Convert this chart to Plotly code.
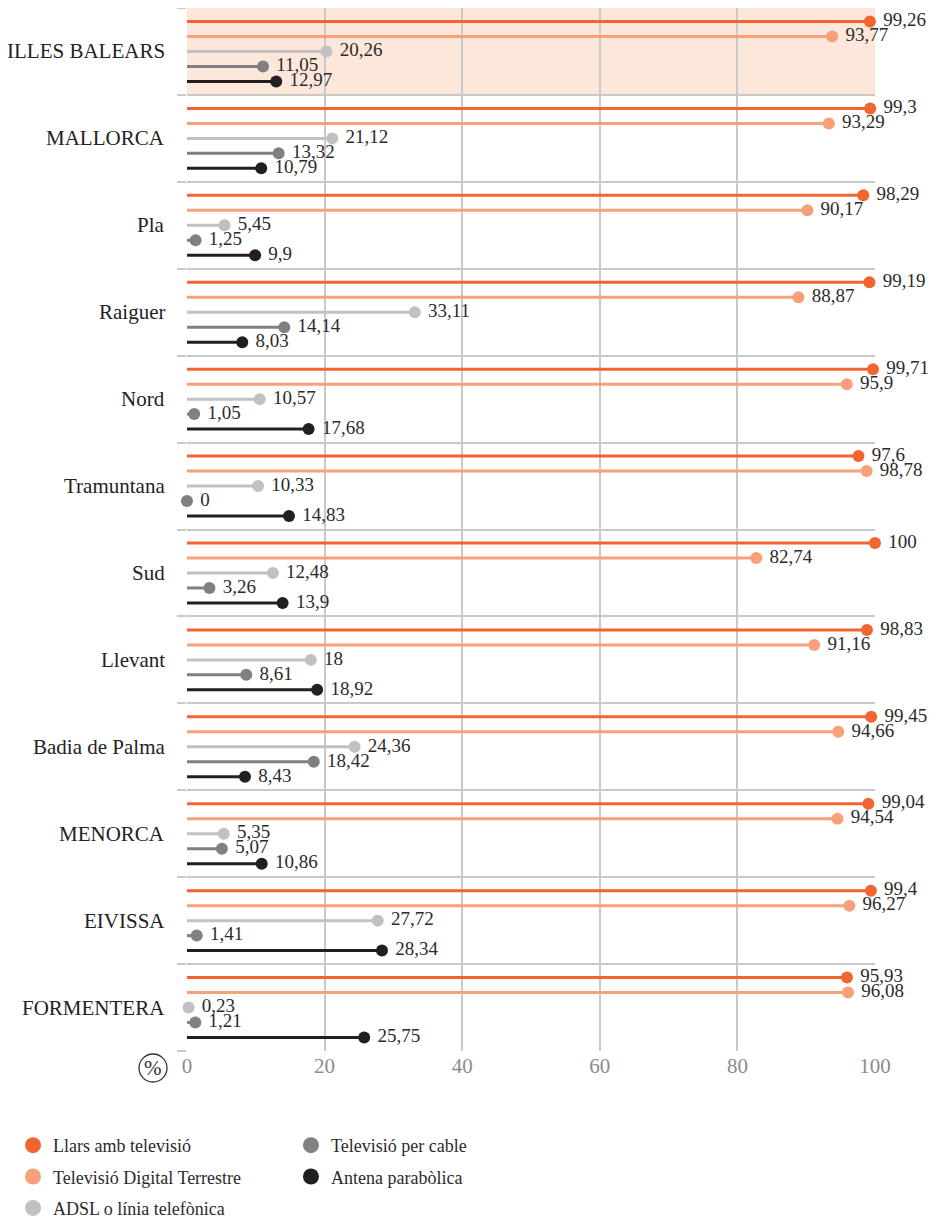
import plotly.graph_objects as go

categories = ["ILLES BALEARS", "MALLORCA", "Pla", "Raiguer", "Nord", "Tramuntana",
              "Sud", "Llevant", "Badia de Palma", "MENORCA", "EIVISSA", "FORMENTERA"]
series_names = ["Llars amb televisió", "Televisió Digital Terrestre", "ADSL o línia telefònica",
                "Televisió per cable", "Antena parabòlica"]
llars_tv = [99.26, 99.3, 98.29, 99.19, 99.71, 97.6, 100, 98.83, 99.45, 99.04, 99.4, 95.93]
tdt = [93.77, 93.29, 90.17, 88.87, 95.9, 98.78, 82.74, 91.16, 94.66, 94.54, 96.27, 96.08]
adsl = [20.26, 21.12, 5.45, 33.11, 10.57, 10.33, 12.48, 18, 24.36, 5.35, 27.72, 0.23]
cable = [11.05, 13.32, 1.25, 14.14, 1.05, 0, 3.26, 8.61, 18.42, 5.07, 1.41, 1.21]
antena = [12.97, 10.79, 9.9, 8.03, 17.68, 14.83, 13.9, 18.92, 8.43, 10.86, 28.34, 25.75]
x_ticks = [0, 20, 40, 60, 80, 100]

series_values = [llars_tv, tdt, adsl, cable, antena]
colors = ["#f26531", "#f7a079", "#c1c1c3", "#808084", "#231f20"]

SERIF = "Liberation Serif"
ROW_STEP = 0.1724

fig = go.Figure()

for j, (name, vals, col) in enumerate(zip(series_names, series_values, colors)):
    ys = [i + (j - 2) * ROW_STEP for i in range(len(categories))]
    lx, ly = [], []
    for v, y in zip(vals, ys):
        lx += [0, v, None]
        ly += [y, y, None]
    fig.add_trace(go.Scatter(x=lx, y=ly, mode="lines", line=dict(color=col, width=3),
                             showlegend=False, hoverinfo="skip", cliponaxis=False))
    fig.add_trace(go.Scatter(x=vals, y=ys, mode="markers+text",
                             marker=dict(color=col, size=12),
                             text=[" " + f"{v:g}".replace(".", ",") for v in vals],
                             textposition="middle right",
                             textfont=dict(family=SERIF, size=19, color="#2b2b2b"),
                             showlegend=False, cliponaxis=False, name=name))
    # legend entries
    fig.add_trace(go.Scatter(x=[None], y=[None], mode="markers",
                             marker=dict(color=col, size=20), name=name,
                             legend="legend" if j < 3 else "legend2",
                             legendgroup=name, showlegend=True))

PCT_X = -0.0494
PCT_Y = -0.0163

shapes = [dict(type="rect", xref="x", yref="y", x0=0, x1=100, y0=-0.5, y1=0.5,
               fillcolor="#fde7db", line=dict(width=0), layer="below"),
          dict(type="circle", xref="paper", yref="paper", xsizemode="pixel", ysizemode="pixel",
               xanchor=PCT_X, yanchor=PCT_Y, x0=-14, x1=14, y0=-14, y1=14,
               line=dict(color="#333333", width=1.3))]

annotations = [dict(x=0, xref="paper", y=i, yref="y", text=c, showarrow=False,
                    xanchor="right", xshift=-20,
                    font=dict(family=SERIF, size=21, color="#222222"))
               for i, c in enumerate(categories)]
annotations.append(dict(x=PCT_X, xref="paper", y=PCT_Y, yref="paper", text="%", showarrow=False,
                        xanchor="center", yanchor="middle",
                        font=dict(family=SERIF, size=21, color="#333333")))

legend_font = dict(family=SERIF, size=18, color="#2b2b2b")

fig.update_layout(
    width=928, height=1212,
    margin=dict(l=179, r=61, t=0, b=169, autoexpand=False),
    paper_bgcolor="white", plot_bgcolor="white",
    xaxis=dict(range=[0, 100], tickvals=x_ticks, showgrid=True, gridcolor="#c9c9c9",
               gridwidth=1.5, zeroline=False, showline=False, ticks="", automargin=False,
               tickfont=dict(family=SERIF, size=21, color="#8c8c8c")),
    yaxis=dict(range=[len(categories) - 0.5, -0.5],
               tickvals=[i - 0.5 for i in range(len(categories) + 1)],
               showticklabels=False, showgrid=True, gridcolor="#c9c9c9", gridwidth=1.5,
               ticks="outside", ticklen=9, tickcolor="#c9c9c9", tickwidth=1.5,
               zeroline=False, showline=False, automargin=False),
    shapes=shapes,
    annotations=annotations,
    legend=dict(x=-0.2529, y=-0.0728, xanchor="left", yanchor="top", tracegroupgap=5,
                font=legend_font, bgcolor="rgba(0,0,0,0)"),
    legend2=dict(x=0.1511, y=-0.0728, xanchor="left", yanchor="top", tracegroupgap=5,
                 font=legend_font, bgcolor="rgba(0,0,0,0)"),
)

fig.write_html("out.html")
